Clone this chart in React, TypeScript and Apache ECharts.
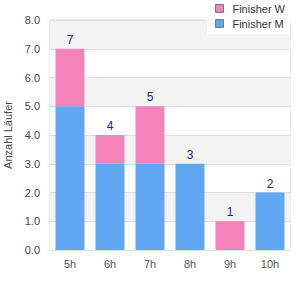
import React, { useEffect, useRef } from "react";
import * as echarts from "echarts";

const categories = ["5h", "6h", "7h", "8h", "9h", "10h"];
const finisherM = [5, 3, 3, 3, 0, 2];
const finisherW = [2, 1, 2, 0, 1, 0];
const totals = [7, 4, 5, 3, 1, 2];

const FONT = "'Liberation Sans', Arial, sans-serif";

export default function App() {
  const ref = useRef<HTMLDivElement>(null);
  useEffect(() => {
    const chart = echarts.init(ref.current!, undefined, { renderer: "svg" });
    chart.setOption({
      animation: false,
      textStyle: { fontFamily: FONT },
      grid: {
        left: 50,
        right: 10,
        top: 20,
        bottom: 50,
        show: true,
        borderColor: "#dddddd",
        borderWidth: 1,
        backgroundColor: "transparent",
        outerBoundsMode: "none",
        containLabel: false,
      },
      legend: {
        orient: "vertical",
        right: 10,
        top: 0,
        itemWidth: 8,
        itemHeight: 8,
        itemGap: 2,
        padding: [2, 5, 4, 8],
        backgroundColor: "#ffffff",
        icon: "rect",
        textStyle: { fontSize: 11, color: "#333", lineHeight: 13, fontFamily: FONT, padding: [0, 0, 0, 4] },
        data: [
          { name: "Finisher W", itemStyle: { borderColor: "#777", borderWidth: 1 } },
          { name: "Finisher M", itemStyle: { borderColor: "#777", borderWidth: 1 } },
        ],
      },
      xAxis: {
        type: "category",
        data: categories,
        axisLine: { show: false },
        axisTick: { show: false },
        axisLabel: { color: "#555", fontSize: 11, margin: 8, fontFamily: FONT },
      },
      yAxis: {
        type: "value",
        min: 0,
        max: 8,
        interval: 1,
        name: "Anzahl Läufer",
        nameLocation: "middle",
        nameGap: 37,
        nameTextStyle: { color: "#444", fontSize: 11, fontFamily: FONT },
        axisLine: { show: false },
        axisTick: { show: false },
        axisLabel: { color: "#444", fontSize: 11, margin: 10, fontFamily: FONT, formatter: (v: number) => v.toFixed(1) },
        splitLine: { lineStyle: { color: "#dddddd" } },
        splitArea: { show: true, areaStyle: { color: ["#ffffff", "#f3f3f3"] } },
      },
      series: [
        {
          name: "Finisher M",
          type: "bar",
          stack: "total",
          data: finisherM,
          barWidth: 29,
          itemStyle: { color: "#60a8f4" },
        },
        {
          name: "Finisher W",
          type: "bar",
          stack: "total",
          data: finisherW,
          barWidth: 29,
          itemStyle: { color: "#f383b9" },
          label: {
            show: true,
            position: "top",
            distance: 3,
            color: "#22228a",
            fontSize: 12,
            fontFamily: FONT,
            formatter: (p: any) => String(totals[p.dataIndex]),
          },
        },
      ],
    });
    return () => chart.dispose();
  }, []);
  return <div ref={ref} style={{ width: 300, height: 300, position: "absolute", left: 0, top: 0 }} />;
}
